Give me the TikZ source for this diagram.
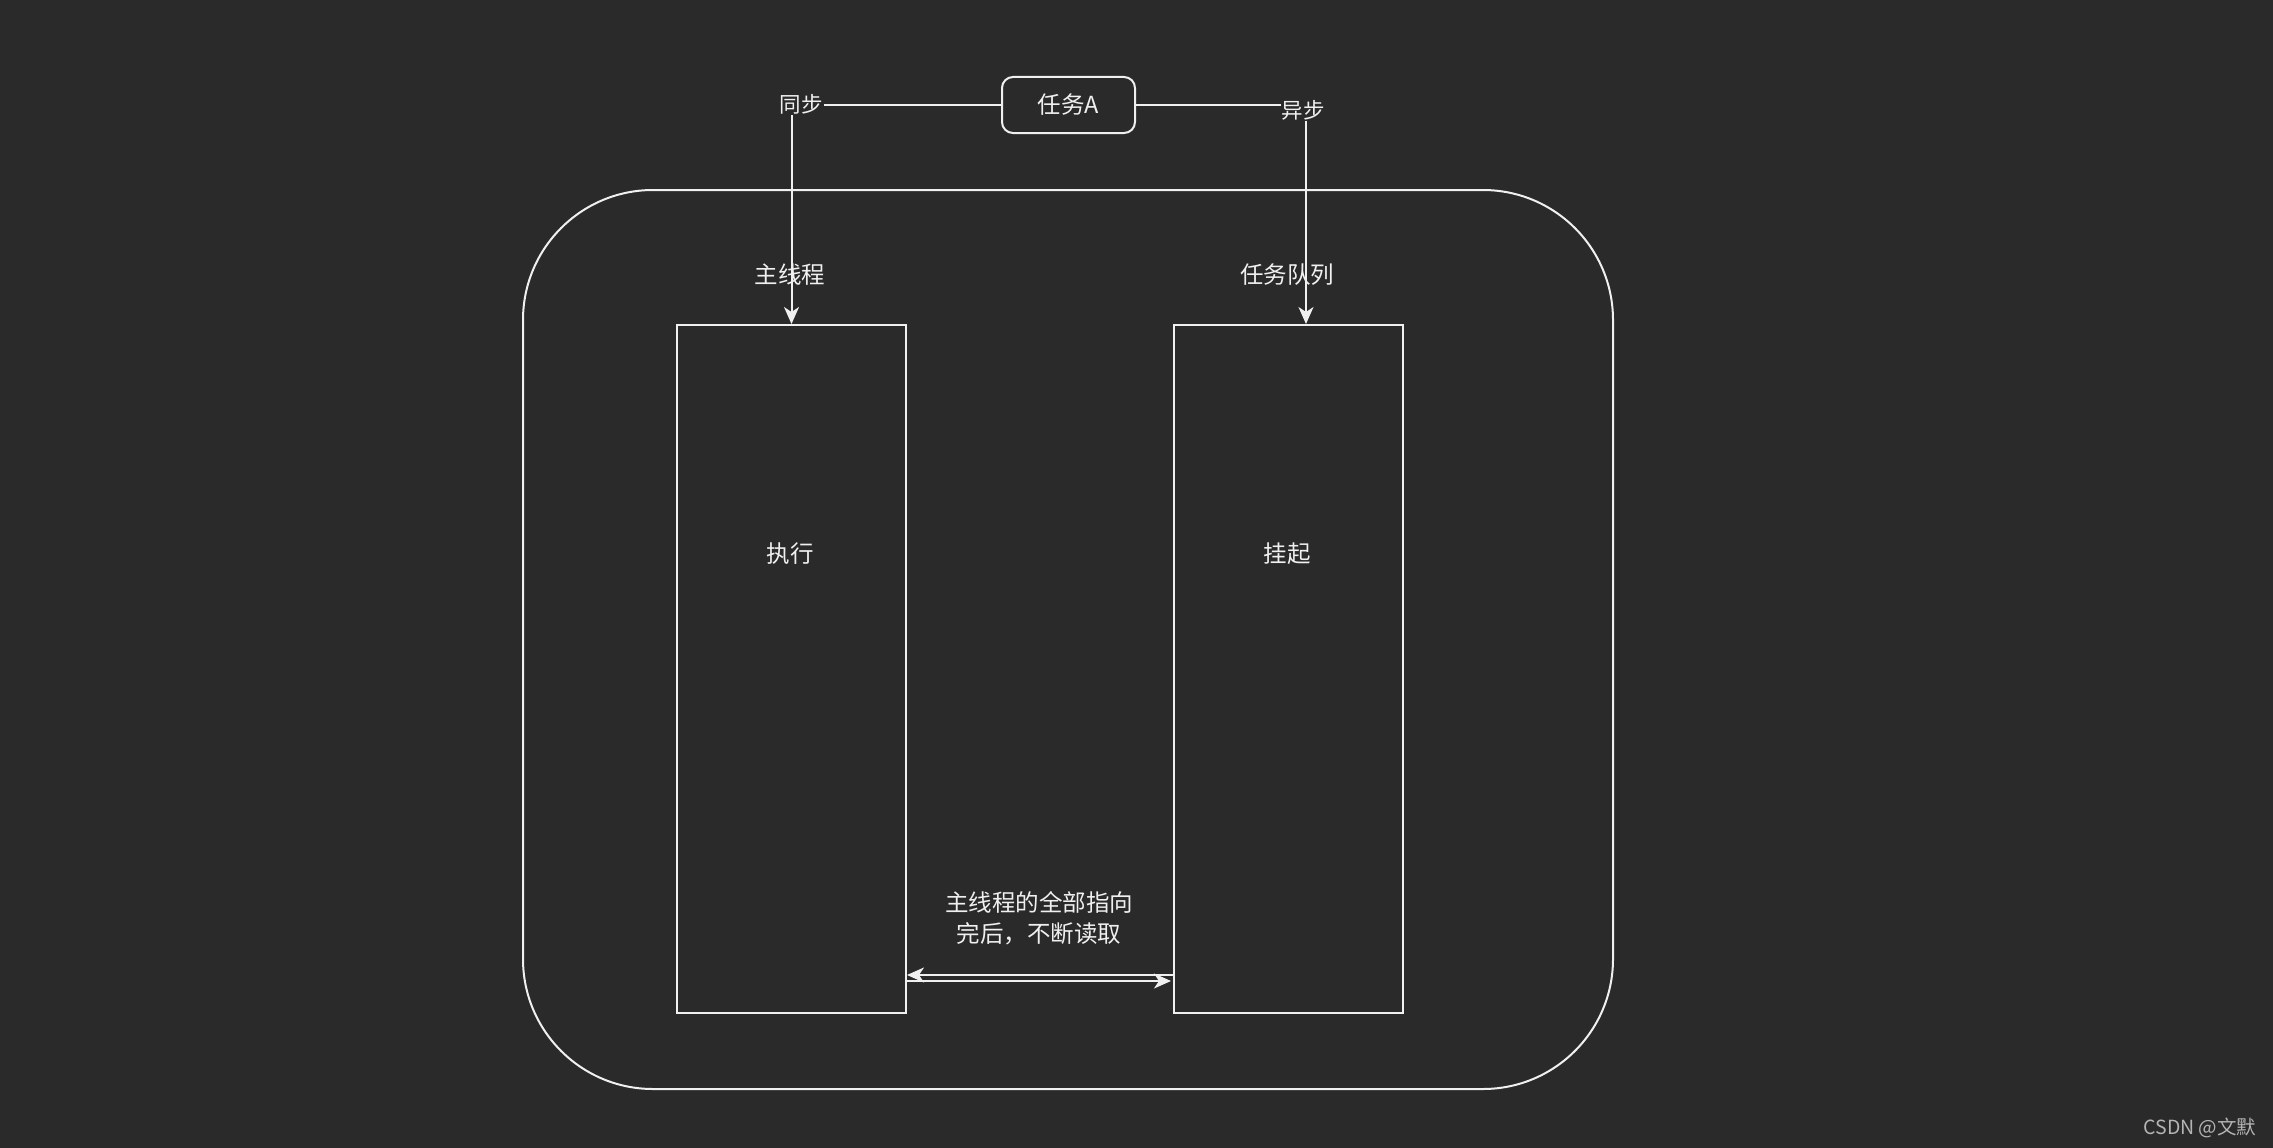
\documentclass[tikz,border=0pt]{standalone}
\usepackage{fontspec}
\setmainfont{Noto Sans CJK SC}
\usetikzlibrary{arrows.meta}
\definecolor{bg}{HTML}{2A2A2A}
\definecolor{fg}{HTML}{F0F0F0}
\definecolor{wm}{HTML}{B4B4B4}
\begin{document}
\begin{tikzpicture}[x=1pt,y=-1pt,
  every node/.style={text=fg, font=\fontsize{23.5}{31}\selectfont},
  ln/.style={draw=fg, line width=2pt},
  arr/.style={ln, -{Stealth[length=17pt,width=15pt,inset=5pt]}},
  box/.style={ln, minimum width=229pt, minimum height=688pt, inner sep=0pt},
  lbl/.style={fill=bg, inner sep=1pt, font=\fontsize{21.5}{24}\selectfont}]
\fill[bg] (0,0) rectangle (2273,1148);
\useasboundingbox (0,0) rectangle (2273,1148);

\node[ln, draw, rounded corners=130pt, minimum width=1090pt, minimum height=899pt, inner sep=0pt] (outer) at (1068,639.5) {};
\node[box, draw] (left) at (791.5,669) {};
\node[box, draw] (right) at (1288.5,669) {};
\node at (790,554) {执行};
\node at (1287,554) {挂起};
\node (lmain) at (790,275) {主线程};
\node (lqueue) at (1287,275) {任务队列};

\node[ln, draw, rounded corners=11pt, minimum width=133pt, minimum height=56pt, inner sep=0pt] (task) at (1068.5,105) {任务A};

\draw[arr] (task.west) -| (left.north);
\draw[arr] (task.east) -| ([xshift=17.5pt]right.north);
\node[lbl] (sync) at (801,104) {同步};
\node[lbl] (async) at (1303,110) {异步};

\coordinate (yu) at (0,975);
\coordinate (yd) at (0,981);
\draw[arr] (right.west |- yu) -- (left.east |- yu);
\draw[arr] (left.east |- yd) -- ([xshift=-2pt]right.west |- yd);
\node[align=center] (note) at (1039,918) {主线程的全部指向\\完后，不断读取};

\node[text=wm, font=\fontsize{19.5}{22}\selectfont] (wmk) at (2200,1128) {CSDN @文默};
\end{tikzpicture}
\end{document}
